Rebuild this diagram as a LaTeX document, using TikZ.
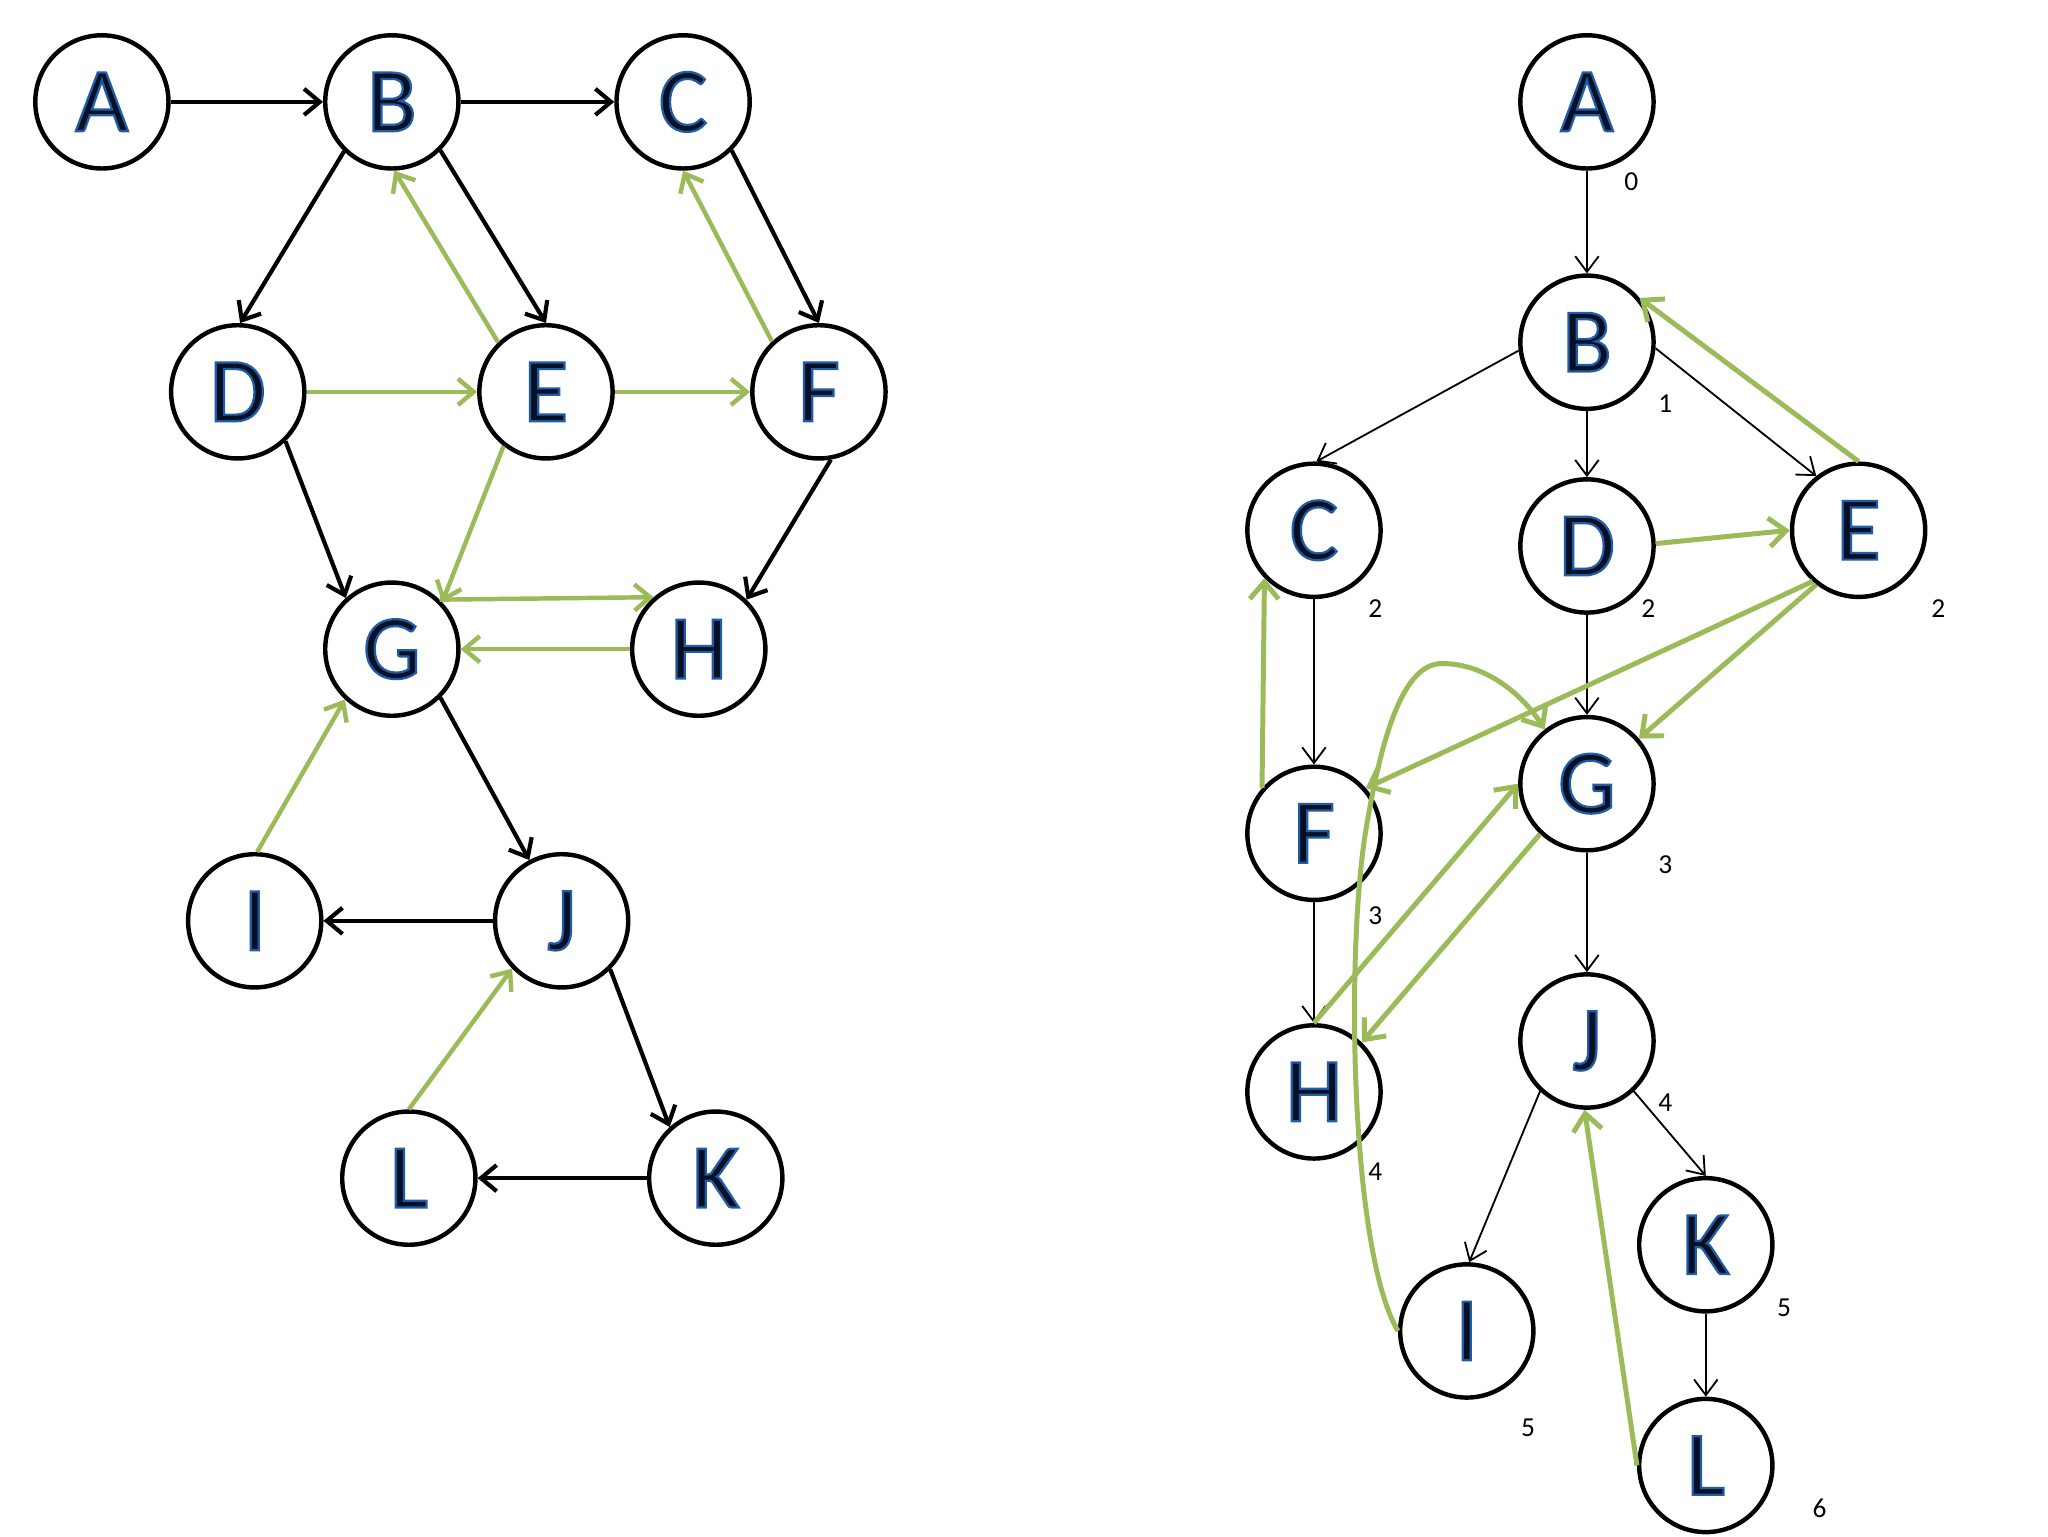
\documentclass[tikz,border=0pt]{standalone}
\usepackage{fontspec}
\setmainfont{Carlito}
\usetikzlibrary{arrows.meta}
\definecolor{grn}{RGB}{155,187,89}
\definecolor{ltrfill}{RGB}{6,16,36}
\newcommand\ltr[1]{\special{pdf:literal direct 2 Tr 1.7 w 0.12 0.36 0.66 RG}#1\special{pdf:literal direct 0 Tr}}
\tikzset{
  nd/.style={circle,draw=black,line width=3.4pt,minimum size=102pt,inner sep=0pt,fill=white,
    text=ltrfill,font=\fontsize{70}{70}\selectfont},
  num/.style={font=\fontsize{21}{21}\selectfont,text=black,inner sep=0pt},
  blk/.style={draw=black,line width=3.2pt,-{Straight Barb[length=12pt,width=20pt,line width=3.2pt]}},
  thn/.style={draw=black,line width=1.4pt,-{Straight Barb[length=12pt,width=18pt,line width=1.4pt]}},
  grl/.style={draw=grn,line width=3.4pt,-{Straight Barb[length=12pt,width=20pt,line width=3.4pt]}},
  grr/.style={draw=grn,line width=3.8pt,-{Straight Barb[length=13pt,width=22pt,line width=3.8pt]}},
}
\begin{document}
\begin{tikzpicture}[x=1pt,y=-1pt]
\useasboundingbox[fill=white] (0,0) rectangle (1568,1176);
% ---------- left graph ----------
\node[nd] (A) at (78,78) {\ltr{A}};
\node[nd] (B) at (300,78) {\ltr{B}};
\node[nd] (C) at (523,78) {\ltr{C}};
\node[nd] (D) at (182,300) {\ltr{D}};
\node[nd] (E) at (418,300) {\ltr{E}};
\node[nd] (F) at (627,300) {\ltr{F}};
\node[nd] (G) at (300,497) {\ltr{G}};
\node[nd] (H) at (535,497) {\ltr{H}};
\node[nd] (I) at (195,705) {\ltr{I}};
\node[nd] (J) at (430,705) {\ltr{J}};
\node[nd] (L) at (313,902) {\ltr{L}};
\node[nd] (K) at (548,902) {\ltr{K}};
% black edges
\draw[blk] (A.0) -- (B.180);
\draw[blk] (B.0) -- (C.180);
\draw[blk] (B.-134) -- (D.88);
\draw[blk] (B.-45) -- (E.90);
\draw[blk] (C.-45) -- (F.90);
\draw[blk] (D.-46) -- (G.132);
\draw[blk] (F.-80) -- (H.46);
\draw[blk] (G.-45) -- (J.118);
\draw[blk] (J.180) -- (I.0);
\draw[blk] (J.-45) -- (K.132);
\draw[blk] (K.180) -- (L.0);
% green edges
\draw[grl] (E.134) -- (B.-88);
\draw[grl] (F.133) -- (C.-90);
\draw[grl] (D.0) -- (E.180);
\draw[grl] (E.0) -- (F.180);
\draw[grl] (E.-128) -- (G.43);
\draw[grl] (G.46) -- (H.131);
\draw[grl] (H.180) -- (G.0);
\draw[grl] (I.88) -- (G.-133);
\draw[grl] (L.90) -- (J.-136);
% ---------- right graph ----------
\node[nd] (rA) at (1215,78) {\ltr{A}};
\node[nd] (rB) at (1215,262) {\ltr{B}};
\node[nd] (rC) at (1006,406) {\ltr{C}};
\node[nd] (rD) at (1215,418) {\ltr{D}};
\node[nd] (rE) at (1423,406) {\ltr{E}};
\node[nd] (rF) at (1006,638) {\ltr{F}};
\node[nd] (rG) at (1215,600) {\ltr{G}};
\node[nd] (rH) at (1006,836) {\ltr{H}};
\node[nd] (rJ) at (1215,797) {\ltr{J}};
\node[nd] (rI) at (1123,1019) {\ltr{I}};
\node[nd] (rK) at (1306,953) {\ltr{K}};
\node[nd] (rL) at (1306,1122) {\ltr{L}};
% depth labels
\node[num] (nA) at (1249,139) {0};
\node[num] (nB) at (1275,309) {1};
\node[num] (nC) at (1053,466) {2};
\node[num] (nD) at (1262,466) {2};
\node[num] (nE) at (1484,466) {2};
\node[num] (nF) at (1053,701) {3};
\node[num] (nG) at (1275,662) {3};
\node[num] (nH) at (1053,897) {4};
\node[num] (nJ) at (1275,844) {4};
\node[num] (nI) at (1170,1093) {5};
\node[num] (nK) at (1366,1001) {5};
\node[num] (nL) at (1393,1155) {6};
% black tree edges
\draw[thn] (rA.-90) -- (rB.90);
\draw[thn] (rB.187) -- (rC.88);
\draw[thn] (rB.-90) -- (rD.90);
\draw[thn] (rB.-5) -- (rE.128);
\draw[thn] (rC.-90) -- (rF.90);
\draw[thn] (rD.-90) -- (rG.90);
\draw[thn] (rF.-90) -- (rH.90);
\draw[thn] (rG.-90) -- (rJ.90);
\draw[thn] (rJ.-133) -- (rI.88);
\draw[thn] (rJ.-47) -- (rK.90);
\draw[thn] (rK.-90) -- (rL.90);
% green non-tree edges
\draw[grr] (rE.90) -- (rB.40);
\draw[grr] (rD.2) -- (rE.180);
\draw[grr] (rF.139) -- (rC.-136);
\draw[grr] (rE.-132) -- (rF.41);
\draw[grr] (rE.-128) -- (rG.41);
\draw[grr] (rH.90) -- (rG.180);
\draw[grr] (rG.-133) -- (rH.46);
\draw[grr] (rL.180) -- (rJ.-92);
\draw[grr] (rI.180) .. controls (1035,960) and (1030,740) .. (1045,640)
   .. controls (1058,560) and (1075,508) .. (1104,508)
   .. controls (1140,508) and (1168,535) .. (rG.128);
\end{tikzpicture}
\end{document}
